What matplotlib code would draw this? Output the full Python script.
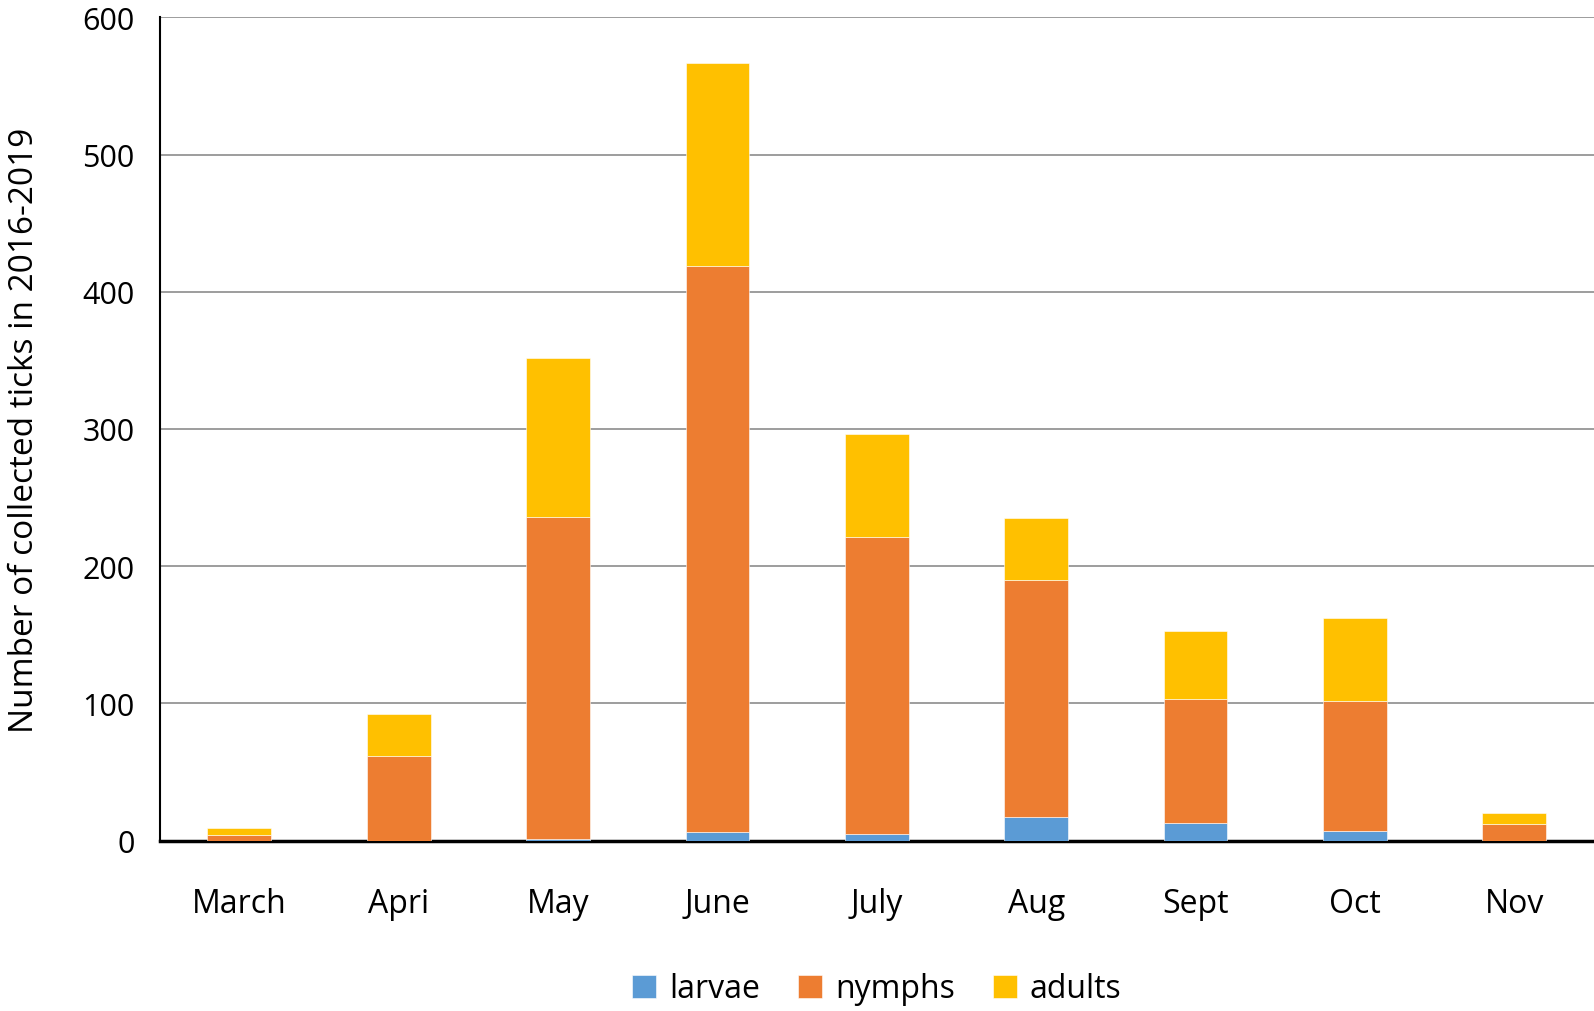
import matplotlib.pyplot as plt
import numpy as np

months = ['March', 'Apri', 'May', 'June', 'July', 'Aug', 'Sept', 'Oct', 'Nov']
larvae = [0, 0, 1, 6, 5, 17, 13, 7, 0]
nymphs = [4, 62, 235, 413, 216, 173, 90, 95, 12]
adults = [5, 30, 116, 148, 75, 45, 50, 60, 8]

plt.rcParams['font.family'] = ['Open Sans', 'DejaVu Sans']

fig = plt.figure(figsize=(15.94, 10.12), dpi=100)
ax = fig.add_axes([0.1001, 0.1683, 0.8999, 0.8136])

x = np.arange(len(months))
larvae = np.array(larvae)
nymphs = np.array(nymphs)
adults = np.array(adults)

w = 0.4
ax.bar(x, larvae, w, color='#5B9BD5', edgecolor='white', linewidth=0.4, label='larvae', zorder=3)
ax.bar(x, nymphs, w, bottom=larvae, color='#ED7D31', edgecolor='white', linewidth=0.4, label='nymphs', zorder=3)
ax.bar(x, adults, w, bottom=larvae + nymphs, color='#FFC000', edgecolor='white', linewidth=0.4, label='adults', zorder=3)

ax.set_xlim(-0.5, len(months) - 0.5)
ax.set_ylim(0, 600)
ax.set_yticks(range(0, 601, 100))
ax.set_xticks(x)
ax.set_xticklabels(months)
ax.tick_params(axis='both', length=0, labelsize=22)
ax.tick_params(axis='x', labelsize=23, pad=33)
ax.tick_params(axis='y', pad=18)
ax.yaxis.grid(True, color='#8c8c8c', linewidth=1.2, zorder=0)

for s in ['top', 'right']:
    ax.spines[s].set_visible(False)
ax.spines['left'].set_linewidth(1.5)
ax.spines['bottom'].set_linewidth(2.5)

ax.set_ylabel('Number of collected ticks in 2016-2019', fontsize=24, labelpad=30)

ax.legend(loc='upper center', bbox_to_anchor=(0.5, -0.125), ncol=3, frameon=False,
          fontsize=23, handlelength=0.75, handleheight=0.75, handletextpad=0.4, columnspacing=1.2)

fig.savefig('out.png')
